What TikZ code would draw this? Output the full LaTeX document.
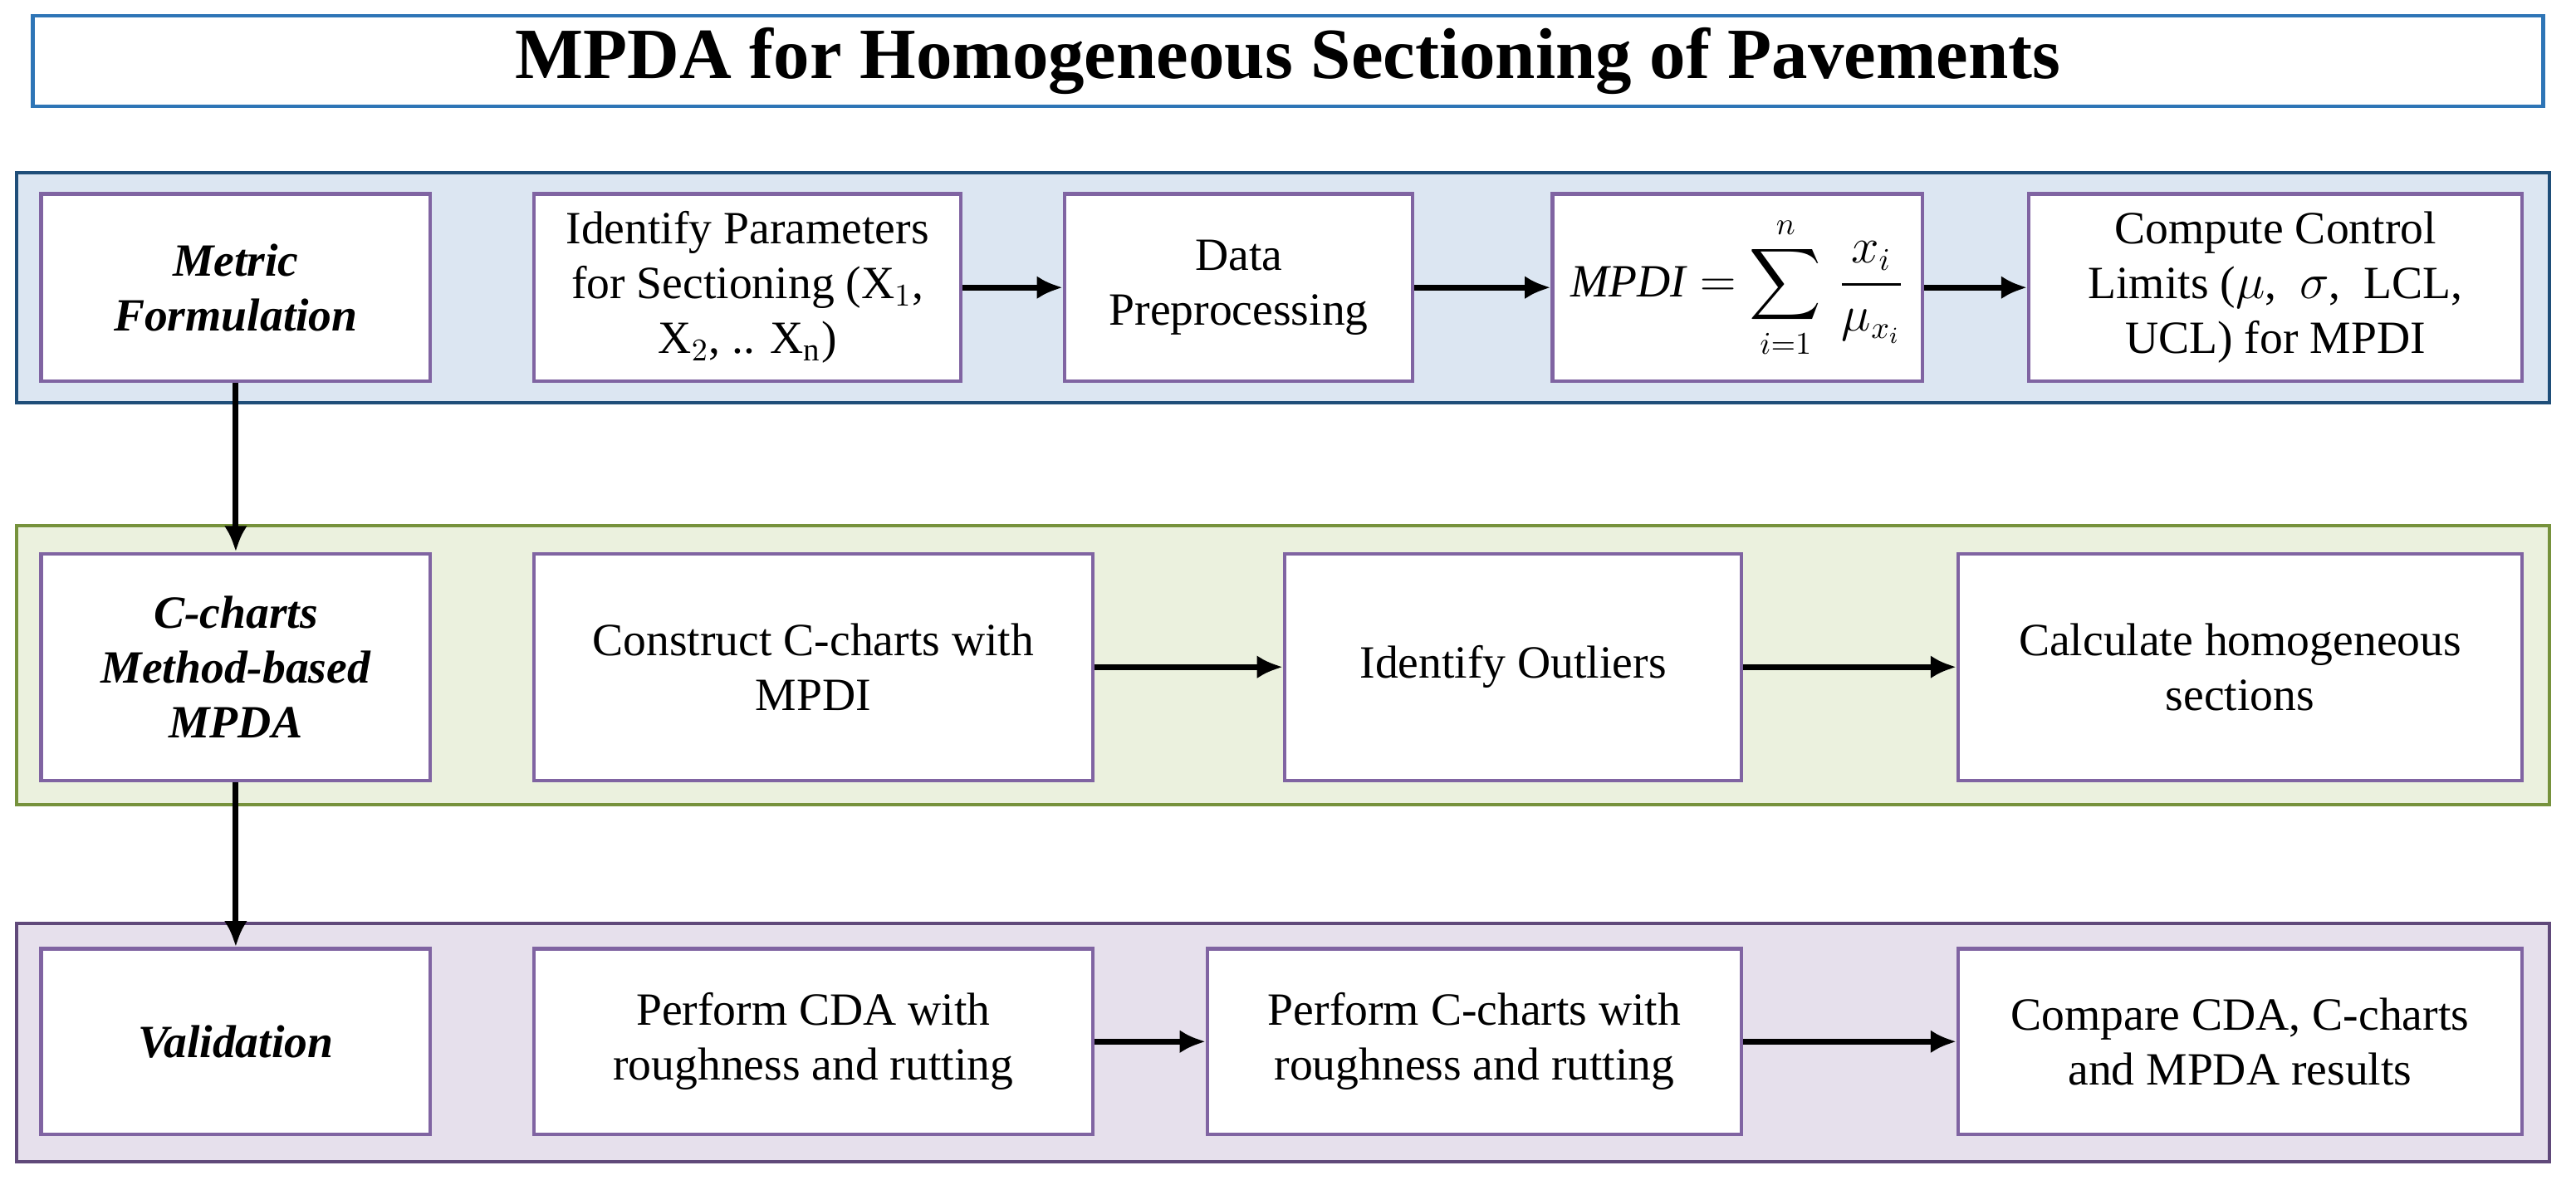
\documentclass[tikz,border=0pt]{standalone}
\usepackage{fontspec}
\usepackage{amsmath}
\setmainfont{Liberation Serif}
\usetikzlibrary{arrows.meta}
\definecolor{titleblue}{RGB}{46,117,182}
\definecolor{bandblue}{RGB}{220,230,242}
\definecolor{lineblue}{RGB}{31,78,121}
\definecolor{bandgreen}{RGB}{235,241,222}
\definecolor{linegreen}{RGB}{118,146,60}
\definecolor{bandpurple}{RGB}{230,224,236}
\definecolor{linepurple}{RGB}{96,73,122}
\definecolor{boxpurple}{RGB}{128,100,162}
\tikzset{
  procbox/.style={draw=boxpurple,line width=1.2pt,fill=white,align=center,font=\fontsize{16}{19}\selectfont},
  stagebox/.style={procbox,font=\fontsize{16}{19}\selectfont\bfseries\itshape},
  flow/.style={-{Latex[length=9pt,width=8pt]},line width=2pt}
}
\begin{document}
\begin{tikzpicture}[x=0.02cm,y=-0.02cm]
  \useasboundingbox (0,0) rectangle (1568,721);
  % Title
  \node[draw=titleblue,line width=1.2pt,minimum width=1528*0.02cm,minimum height=55*0.02cm,
    font=\fontsize{25}{30}\selectfont\bfseries] (title) at (784,37) {MPDA for Homogeneous Sectioning of Pavements};
  % Bands
  \draw[draw=lineblue,fill=bandblue,line width=1.2pt] (10,105) rectangle (1552,245);
  \draw[draw=linegreen,fill=bandgreen,line width=1.2pt] (10,320) rectangle (1552,490);
  \draw[draw=linepurple,fill=bandpurple,line width=1.2pt] (10,562) rectangle (1552,707);
  % Row 1
  \node[stagebox,minimum width=237*0.02cm,minimum height=114*0.02cm] (metric) at (143.5,175) {Metric\\Formulation};
  \node[procbox,minimum width=260*0.02cm,minimum height=114*0.02cm] (param) at (455,175) {Identify Parameters\\for Sectioning (X$_1$,\\X$_2$, .. X$_\mathrm{n}$)};
  \node[procbox,minimum width=212*0.02cm,minimum height=114*0.02cm] (prep) at (754,175) {Data\\Preprocessing};
  \node[procbox,minimum width=225*0.02cm,minimum height=114*0.02cm] (mpdi) at (1057.5,175) {$\mathit{MPDI}=\displaystyle\sum_{i=1}^{n}\,\frac{x_i}{\mu_{x_i}}$};
  \node[procbox,minimum width=300*0.02cm,minimum height=114*0.02cm] (limits) at (1385,175) {Compute Control\\Limits ($\mu$,\enspace$\sigma$,\enspace LCL,\\UCL) for MPDI};
  % Row 2
  \node[stagebox,minimum width=237*0.02cm,minimum height=138*0.02cm] (cchart) at (143.5,406) {C-charts\\Method-based\\MPDA};
  \node[procbox,minimum width=340*0.02cm,minimum height=138*0.02cm] (construct) at (495,406) {Construct C-charts with\\MPDI};
  \node[procbox,minimum width=278*0.02cm,minimum height=138*0.02cm] (outlier) at (921,406) {Identify Outliers};
  \node[procbox,minimum width=343*0.02cm,minimum height=138*0.02cm] (calc) at (1363.5,406) {Calculate homogeneous\\sections};
  % Row 3
  \node[stagebox,minimum width=237*0.02cm,minimum height=113*0.02cm] (valid) at (143.5,634) {Validation};
  \node[procbox,minimum width=340*0.02cm,minimum height=113*0.02cm] (cda) at (495,634) {Perform CDA with\\roughness and rutting};
  \node[procbox,minimum width=325*0.02cm,minimum height=113*0.02cm] (cperf) at (897.5,634) {Perform C-charts with\\roughness and rutting};
  \node[procbox,minimum width=343*0.02cm,minimum height=113*0.02cm] (compare) at (1363.5,634) {Compare CDA, C-charts\\and MPDA results};
  % Arrows
  \draw[flow] (param) -- (prep);
  \draw[flow] (prep) -- (mpdi);
  \draw[flow] (mpdi) -- (limits);
  \draw[flow] (construct) -- (outlier);
  \draw[flow] (outlier) -- (calc);
  \draw[flow] (cda) -- (cperf);
  \draw[flow] (cperf) -- (compare);
  \draw[flow] (metric) -- (cchart);
  \draw[flow] (cchart) -- (valid);
\end{tikzpicture}
\end{document}
